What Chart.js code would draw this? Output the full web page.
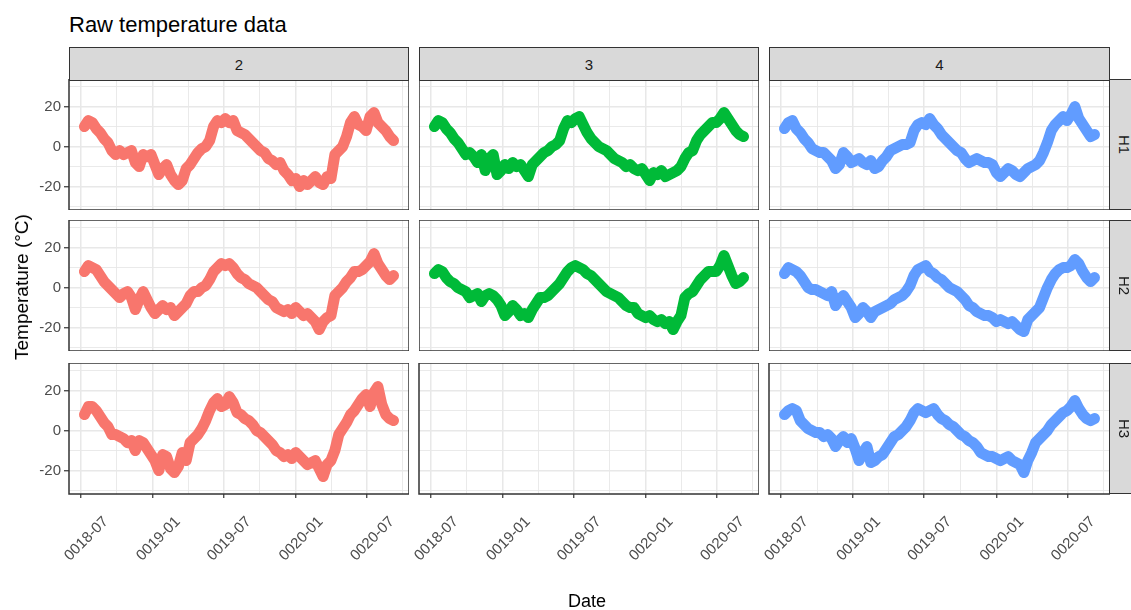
<!DOCTYPE html>
<html>
<head>
<meta charset="utf-8">
<title>Raw temperature data</title>
<style>
body { margin: 0; background: #fff; font-family: "Liberation Sans", Arial, sans-serif; }
#wrap { position: relative; width: 1131px; height: 610px; overflow: hidden; }
.panel { position: absolute; }
.strip {
    position: absolute;
    background: #d9d9d9;
    border: 1.5px solid #333;
    box-sizing: border-box;
    color: #1a1a1a;
    font-size: 15px;
    display: flex;
    align-items: center;
    justify-content: center;
}
.strip.side span { writing-mode: vertical-rl; }
#title { position: absolute; left: 69px; top: 14px; font-size: 22px; line-height: 1; color: #000; white-space: nowrap; }
#ylab { position: absolute; left: 22px; top: 287px; font-size: 19px; color: #000; white-space: nowrap;
        transform: translate(-50%, -50%) rotate(-90deg); }
#xlab { position: absolute; left: 587px; top: 601px; font-size: 18px; color: #000; white-space: nowrap;
        transform: translate(-50%, -50%); }
</style>
</head>
<body>
<div id="wrap">
  <div id="title">Raw temperature data</div>
  <div id="ylab">Temperature (°C)</div>
  <div id="xlab">Date</div>
</div>

<script src="https://cdn.jsdelivr.net/npm/chart.js@4.4.0/dist/chart.umd.min.js"></script>
<script>
// facet levels
const cols = ['2', '3', '4'];
const rows = ['H1', 'H2', 'H3'];

// one reading every 10 days
const dates = [
  '2018-07-10','2018-07-20','2018-07-30','2018-08-09','2018-08-19','2018-08-29','2018-09-08','2018-09-18','2018-09-28','2018-10-08',
  '2018-10-18','2018-10-28','2018-11-07','2018-11-17','2018-11-27','2018-12-07','2018-12-17','2018-12-27','2019-01-06','2019-01-16',
  '2019-01-26','2019-02-05','2019-02-15','2019-02-25','2019-03-07','2019-03-17','2019-03-27','2019-04-06','2019-04-16','2019-04-26',
  '2019-05-06','2019-05-16','2019-05-26','2019-06-05','2019-06-15','2019-06-25','2019-07-05','2019-07-15','2019-07-25','2019-08-04',
  '2019-08-14','2019-08-24','2019-09-03','2019-09-13','2019-09-23','2019-10-03','2019-10-13','2019-10-23','2019-11-02','2019-11-12',
  '2019-11-22','2019-12-02','2019-12-12','2019-12-22','2020-01-01','2020-01-11','2020-01-21','2020-01-31','2020-02-10','2020-02-20',
  '2020-03-01','2020-03-11','2020-03-21','2020-03-31','2020-04-10','2020-04-20','2020-04-30','2020-05-10','2020-05-20','2020-05-30',
  '2020-06-09','2020-06-19','2020-06-29','2020-07-09','2020-07-19','2020-07-29','2020-08-08','2020-08-18','2020-08-28','2020-09-07'
];

// temperature (°C), sensor 2 / 3 / 4 at heights H1 / H2 / H3
const s2H1 = [10,13,12,9,7,4,2,-2,-4,-2, -4,-3,-2,-8,-10,-4,-5,-4,-9,-14, -11,-9,-14,-17,-19,-17,-11,-9,-6,-3, -1,0,3,10,13,12,14,12,13,8,
              7,6,4,2,0,-2,-3,-6,-7,-9, -8,-12,-14,-17,-16,-20,-17,-19,-17,-15, -18,-19,-15,-16,-4,-2,0,5,12,15, 11,10,8,15,17,12,10,8,5,3];
const s3H1 = [10,13,12,9,7,4,2,-1,-4,-3, -5,-8,-4,-12,-6,-4,-14,-12,-9,-11, -8,-10,-9,-12,-15,-9,-7,-5,-3,-2, 0,1,3,9,13,12,14,15,11,7,
              4,2,0,-1,-2,-4,-6,-7,-8,-10, -9,-11,-12,-11,-14,-17,-13,-14,-12,-15, -14,-13,-12,-10,-6,-3,-2,3,6,8, 10,12,12,14,17,14,11,8,6,5];
const s4H1 = [9,12,13,9,7,4,2,-1,-2,-3, -3,-5,-7,-11,-9,-3,-5,-8,-7,-6, -8,-9,-7,-11,-10,-7,-5,-2,-1,0, 1,1,2,8,11,12,11,14,11,9,
              6,4,2,0,-2,-3,-6,-8,-7,-6, -7,-8,-8,-9,-13,-15,-13,-11,-12,-14, -15,-13,-11,-10,-9,-7,-3,2,8,11, 13,15,13,16,20,14,11,8,5,6];
const s2H2 = [8,11,10,9,6,3,1,-1,-3,-5, -3,-2,-5,-11,-6,-2,-6,-10,-13,-11, -9,-11,-10,-14,-12,-10,-8,-4,-2,-2, 0,1,4,8,10,12,11,12,10,7,
              5,4,2,1,0,-2,-4,-6,-7,-10, -11,-12,-11,-13,-10,-12,-14,-13,-15,-17, -21,-17,-15,-14,-4,-2,0,3,5,8, 8,9,11,13,17,12,9,6,4,6];
const s3H2 = [7,9,8,5,3,2,0,-1,-2,-5, -4,-3,-7,-4,-3,-4,-6,-9,-14,-12, -9,-11,-14,-13,-15,-11,-8,-5,-5,-4, -2,0,2,5,8,10,11,10,9,7,
              6,4,2,0,-2,-3,-4,-5,-7,-9, -10,-10,-13,-14,-15,-14,-16,-17,-16,-18, -17,-21,-17,-14,-5,-3,-2,1,4,6, 8,8,8,11,16,11,6,2,3,5];
const s4H2 = [7,10,9,8,6,3,0,-1,-1,-2, -3,-4,-2,-9,-6,-4,-7,-10,-15,-13, -10,-12,-15,-12,-11,-10,-9,-8,-6,-5, -4,-2,1,6,9,10,11,8,7,5,
              4,2,0,-1,-2,-4,-6,-9,-10,-12, -13,-14,-14,-15,-17,-16,-17,-18,-17,-19, -21,-22,-16,-14,-12,-10,-5,0,4,7, 9,10,10,11,14,12,8,5,3,5];
const s2H3 = [8,12,12,10,7,4,2,-2,-2,-3, -4,-6,-5,-10,-5,-6,-9,-12,-15,-20, -12,-13,-19,-21,-18,-11,-15,-6,-4,-2, 1,5,10,14,16,12,13,17,14,9,
              8,6,5,3,0,-1,-3,-5,-7,-10, -11,-13,-12,-14,-11,-13,-15,-17,-16,-15, -19,-23,-17,-15,-10,-2,1,4,8,10, 13,16,18,12,19,22,13,8,6,5];
const s4H3 = [8,10,11,10,5,3,1,0,-1,-1, -3,-2,-4,-8,-5,-3,-6,-4,-9,-15, -11,-8,-16,-15,-13,-12,-9,-6,-3,-2, 0,2,5,9,11,10,9,10,11,8,
              6,5,3,2,0,-2,-3,-5,-6,-8, -11,-12,-13,-13,-14,-15,-14,-13,-15,-16, -17,-21,-15,-11,-6,-4,-2,0,3,5, 7,9,10,12,15,11,8,6,5,6];

const series = {
  H1: { '2': s2H1, '3': s3H1, '4': s4H1 },
  H2: { '2': s2H2, '3': s3H2, '4': s4H2 },
  H3: { '2': s2H3, '3': null, '4': s4H3 }
};

// x axis breaks
const xTickDates = ['2018-07-01', '2019-01-01', '2019-07-01', '2020-01-01', '2020-07-01'];
const xTickLabels = ['0018-07', '0019-01', '0019-07', '0020-01', '0020-07'];
const yMajor = [-20, 0, 20];
const yMinor = [-30, -10, 10, 30];

const colors = { '2': '#F8766D', '3': '#00BA38', '4': '#619CFF' };

// geometry
const colLeft = [69, 419, 769];
const rowTop = [79, 220, 363];
const panelW = 340, panelH = 131;
const yAxisW = 50, xAxisH = 110, labelRoom = 34;

const t0 = Date.parse('2018-07-01');
const toDay = s => (Date.parse(s) - t0) / 864e5;
const days = dates.map(toDay);
const xMajor = xTickDates.map(toDay);
const xMinor = [];
for (let i = 1; i < xMajor.length; i++) xMinor.push((xMajor[i - 1] + xMajor[i]) / 2);
xMinor.push(xMajor[xMajor.length - 1] + (xMajor[xMajor.length - 1] - xMajor[xMajor.length - 2]) / 2);
const xGrid = xMajor.concat(xMinor).sort((a, b) => a - b);
const yGrid = yMajor.concat(yMinor).sort((a, b) => a - b);

// ggplot style 5% expansion
const xLo = days[0], xHi = days[days.length - 1];
const xMin = xLo - 0.05 * (xHi - xLo), xMax = xHi + 0.05 * (xHi - xLo);
const yMin = -31.7, yMax = 33.8;

const wrap = document.getElementById('wrap');

// strips
cols.forEach((c, j) => {
  const d = document.createElement('div');
  d.className = 'strip';
  d.style.left = colLeft[j] + 'px';
  d.style.top = '47px';
  d.style.width = (j === 2 ? panelW + 1 : panelW) + 'px';
  d.style.height = '34px';
  d.textContent = c;
  wrap.appendChild(d);
});
rows.forEach((r, i) => {
  const d = document.createElement('div');
  d.className = 'strip side';
  d.style.left = '1109px';
  d.style.top = rowTop[i] + 'px';
  d.style.width = '30px';
  d.style.height = panelH + 'px';
  d.innerHTML = '<span>' + r + '</span>';
  wrap.appendChild(d);
});

const frame = {
  id: 'frame',
  afterDraw(chart) {
    const a = chart.chartArea, ctx = chart.ctx;
    ctx.save();
    ctx.strokeStyle = '#333';
    ctx.lineWidth = 1.5;
    ctx.strokeRect(a.left, a.top, a.right - a.left, a.bottom - a.top);
    ctx.restore();
  }
};

function makePanel(i, j) {
  const showY = j === 0, showX = i === 2;
  const yW = showY ? yAxisW : (showX ? labelRoom : 0);
  const xH = showX ? xAxisH : 0;
  const w = panelW + (j === 2 ? 1 : 0) + yW, h = panelH + xH;
  const cv = document.createElement('canvas');
  cv.className = 'panel';
  cv.width = w; cv.height = h;
  cv.style.left = (colLeft[j] - yW) + 'px';
  cv.style.top = rowTop[i] + 'px';
  cv.style.width = w + 'px';
  cv.style.height = h + 'px';
  wrap.insertBefore(cv, wrap.firstChild);

  const vals = series[rows[i]][cols[j]];
  const pts = vals ? days.map((d, k) => ({ x: d, y: vals[k] })) : [];

  new Chart(cv, {
    type: 'line',
    data: {
      datasets: [{
        data: pts,
        borderColor: colors[cols[j]],
        borderWidth: 11,
        borderJoinStyle: 'round',
        borderCapStyle: 'round',
        pointRadius: 0,
        tension: 0
      }]
    },
    options: {
      responsive: false,
      animation: false,
      layout: { padding: 0, autoPadding: false },
      plugins: { legend: { display: false }, tooltip: { enabled: false } },
      scales: {
        x: {
          type: 'linear',
          min: xMin,
          max: xMax,
          afterBuildTicks: s => { s.ticks = xGrid.map(v => ({ value: v })); },
          afterFit: s => { s.height = xH; s.paddingLeft = 0; s.paddingRight = 0; },
          border: { display: false },
          grid: {
            color: '#e8e8e8',
            lineWidth: ctx => xMajor.includes(ctx.tick.value) ? 1.5 : 0.9,
            drawTicks: showX,
            tickLength: 4,
            tickWidth: 1.2,
            tickColor: ctx => xMajor.includes(ctx.tick.value) ? '#333' : 'rgba(0,0,0,0)'
          },
          ticks: {
            display: showX,
            autoSkip: false,
            minRotation: 45,
            maxRotation: 45,
            labelOffset: 25,
            padding: 15,
            color: '#4d4d4d',
            font: { family: 'Liberation Sans', size: 15 },
            callback: v => { const k = xMajor.indexOf(v); return k >= 0 ? xTickLabels[k] : ''; }
          }
        },
        y: {
          type: 'linear',
          min: yMin,
          max: yMax,
          afterBuildTicks: s => { s.ticks = yGrid.map(v => ({ value: v })); },
          afterFit: s => { s.width = yW; s.paddingTop = 0; s.paddingBottom = 0; },
          border: { display: false },
          grid: {
            color: '#e8e8e8',
            lineWidth: ctx => yMajor.includes(ctx.tick.value) ? 1.5 : 0.9,
            drawTicks: showY,
            tickLength: 5,
            tickWidth: 1.2,
            tickColor: ctx => yMajor.includes(ctx.tick.value) ? '#333' : 'rgba(0,0,0,0)'
          },
          ticks: {
            display: showY,
            autoSkip: false,
            padding: 3,
            color: '#4d4d4d',
            font: { family: 'Liberation Sans', size: 15 },
            callback: v => yMajor.includes(v) ? String(v) : ''
          }
        }
      }
    },
    plugins: [frame]
  });
}

for (let i = 0; i < rows.length; i++)
  for (let j = 0; j < cols.length; j++)
    makePanel(i, j);
</script>
</body>
</html>
